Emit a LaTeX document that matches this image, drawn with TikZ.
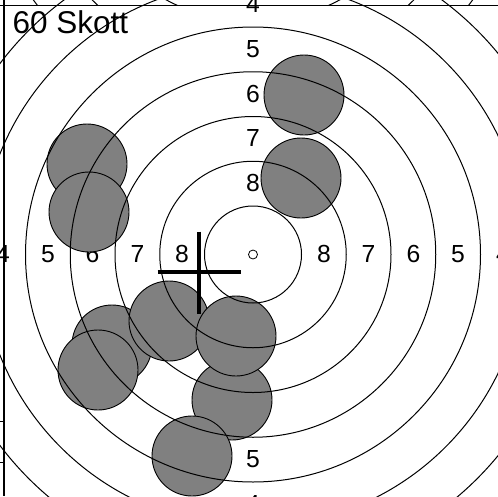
\documentclass[tikz,border=0pt]{standalone}
\usepackage{fontspec}
\setmainfont{Liberation Sans}
\definecolor{holegray}{HTML}{808080}
\begin{document}
\begin{tikzpicture}[x=1pt,y=-1pt,
  lab/.style={inner sep=0pt,font=\fontsize{24.7}{26}\selectfont,anchor=center},
  titlelab/.style={inner sep=0pt,font=\fontsize{31.5}{33}\selectfont,anchor=base west},
  hole/.style={circle,draw=black,fill=holegray,minimum size=80pt,inner sep=0pt,line width=0.9pt},
  ring/.style={draw=black,line width=1pt},
  crossline/.style={draw=black,line width=3.8pt},
  frameline/.style={draw=black,line width=1.4pt},
  tickline/.style={draw=black,line width=1pt}]
\useasboundingbox (0,0) rectangle (498,496);
\begin{scope}
\clip (0,0) rectangle (498,496);
% ring labels
\foreach \n/\d in {8/70.9,7/115.6,6/160.4,5/205.1,4/249.9}{
  \node[lab] (top\n) at (253,254-\d) {\n};
  \node[lab] (bot\n) at (253,254+\d) {\n};
  \node[lab] (lft\n) at (253-\d,254) {\n};
  \node[lab] (rgt\n) at (253+\d,254) {\n};
}
% holes
\node[hole] (h1) at (304,95) {};
\node[hole] (h2) at (301,178) {};
\node[hole] (h3) at (87,164) {};
\node[hole] (h4) at (89,212) {};
\node[hole] (h5) at (112,345) {};
\node[hole] (h6) at (98,370) {};
\node[hole] (h7) at (169,321) {};
\node[hole] (h9) at (232,400) {};
\node[hole] (h10) at (192,456) {};
\node[hole] (h8) at (236,336) {};
% rings
\coordinate (ctr) at (253,254.5);
\foreach \r in {48.5,93.25,138,182.75,227.5,272.25,317,361.75}
  \draw[ring] (ctr) circle[radius=\r];
\draw[line width=0.8pt] (ctr) circle[radius=4.5];
% rings of the target above
\begin{scope}
\clip (0,0) rectangle (498,5.3);
\coordinate (ctrabove) at (253,-161);
\foreach \r in {182.75,227.5,272.25,317}
  \draw[ring] (ctrabove) circle[radius=\r];
\end{scope}
% aiming cross
\coordinate (crl) at (157.7,272);
\coordinate (crr) at (240.7,272);
\coordinate (crt) at (199.2,231.7);
\coordinate (crb) at (199.2,314.3);
\draw[crossline] (crl) -- (crr);
\draw[crossline] (crt) -- (crb);
% frame
\coordinate (fhl) at (0,5.3);
\coordinate (fhr) at (498,5.3);
\coordinate (fvt) at (4,0);
\coordinate (fvb) at (4,496);
\draw[frameline] (fhl) -- (fhr);
\draw[frameline] (fvt) -- (fvb);
\coordinate (ta1) at (0,421.7);
\coordinate (tb1) at (4,421.7);
\coordinate (ta2) at (0,462.3);
\coordinate (tb2) at (4,462.3);
\draw[tickline] (ta1) -- (tb1);
\draw[tickline] (ta2) -- (tb2);
% title
\node[titlelab] (title) at (12.5,33.5) {60 Skott};
\end{scope}
\end{tikzpicture}
\end{document}
